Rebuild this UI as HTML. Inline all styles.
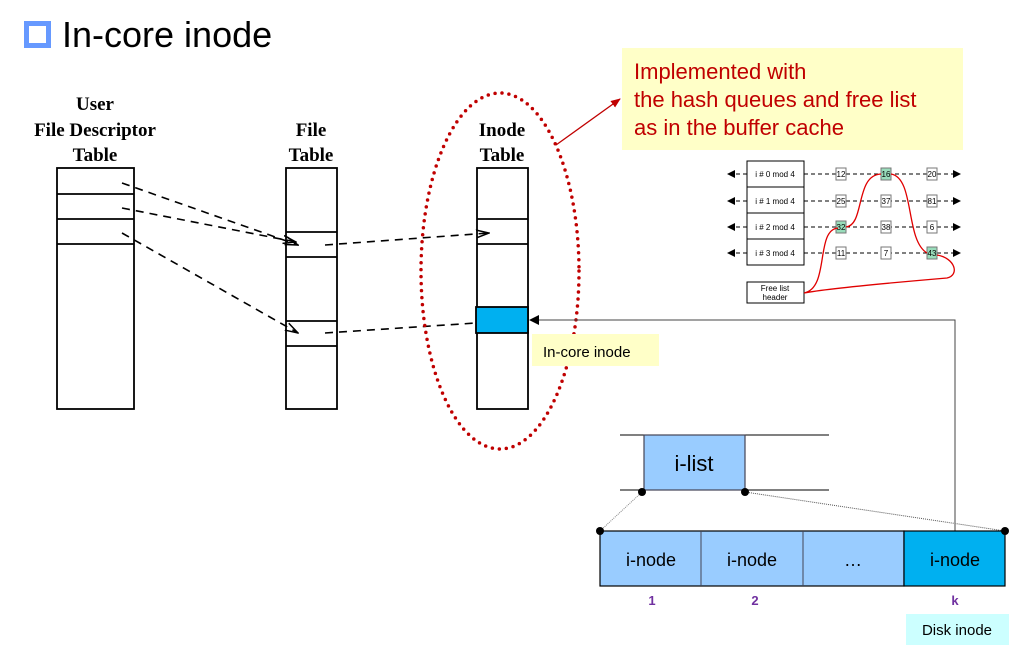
<!DOCTYPE html>
<html><head><meta charset="utf-8"><style>
html,body{margin:0;padding:0;background:#fff;width:1024px;height:666px;overflow:hidden}
svg{display:block}
.s{font-family:"Liberation Serif",serif;font-weight:bold;font-size:19px;fill:#000}
.a{font-family:"Liberation Sans",sans-serif}
</style></head><body>
<svg width="1024" height="666" viewBox="0 0 1024 666" xmlns="http://www.w3.org/2000/svg">
<defs>
<marker id="ah" markerWidth="8" markerHeight="8" refX="7" refY="4" orient="auto" markerUnits="userSpaceOnUse"><path d="M0,0 L8,4 L0,8 z" fill="#000"/></marker>
<marker id="ar" markerWidth="10" markerHeight="8" refX="9" refY="4" orient="auto" markerUnits="userSpaceOnUse"><path d="M0,0 L10,4 L0,8 z" fill="#c00000"/></marker>
<marker id="oa" markerWidth="14" markerHeight="10" refX="13" refY="5" orient="auto" markerUnits="userSpaceOnUse"><path d="M0,1 L13,5 L0,9" fill="none" stroke="#000" stroke-width="1.5"/></marker>
<marker id="ha" markerWidth="10" markerHeight="10" refX="9" refY="5" orient="auto" markerUnits="userSpaceOnUse"><path d="M0,0 L10,5 L0,10 z" fill="#000"/></marker>
</defs>
<rect x="26.5" y="23.5" width="22" height="22" fill="#fff" stroke="#6699ff" stroke-width="5"/>
<text x="62" y="47" class="a" font-size="36">In-core inode</text>

<text x="95" y="110" class="s" text-anchor="middle">User</text>
<text x="95" y="136" class="s" text-anchor="middle">File Descriptor</text>
<text x="95" y="161" class="s" text-anchor="middle">Table</text>
<text x="311" y="136" class="s" text-anchor="middle">File</text>
<text x="311" y="161" class="s" text-anchor="middle">Table</text>
<text x="502" y="136" class="s" text-anchor="middle">Inode</text>
<text x="502" y="161" class="s" text-anchor="middle">Table</text>

<g fill="#fff" stroke="#000" stroke-width="1.8">
<rect x="57" y="168" width="77" height="241"/>
<line x1="57" y1="194" x2="134" y2="194"/><line x1="57" y1="219" x2="134" y2="219"/><line x1="57" y1="244" x2="134" y2="244"/>
<rect x="286" y="168" width="51" height="241"/>
<line x1="286" y1="232" x2="337" y2="232"/><line x1="286" y1="257" x2="337" y2="257"/>
<line x1="286" y1="321" x2="337" y2="321"/><line x1="286" y1="346" x2="337" y2="346"/>
<rect x="477" y="168" width="51" height="241"/>
<line x1="477" y1="219" x2="528" y2="219"/><line x1="477" y1="244" x2="528" y2="244"/>
</g>
<rect x="476" y="307" width="52" height="26" fill="#00b0f0" stroke="#000" stroke-width="1.8"/>

<g stroke="#000" stroke-width="1.6" stroke-dasharray="8,6" fill="none">
<path d="M122,183 L298,245" marker-end="url(#oa)"/>
<path d="M122,208 L296,242" marker-end="url(#oa)"/>
<path d="M122,233 L298,333" marker-end="url(#oa)"/>
<path d="M325,245 L489,233" marker-end="url(#oa)"/>
<path d="M325,333 L476,323"/>
</g>

<ellipse cx="500" cy="271" rx="79" ry="178" fill="none" stroke="#c00000" stroke-width="3.5" stroke-dasharray="0,7" stroke-linecap="round"/>

<rect x="622" y="48" width="341" height="102" fill="#ffffc8"/>
<g class="a" font-size="22" fill="#c00000">
<text x="634" y="79">Implemented with</text>
<text x="634" y="107">the hash queues and free list</text>
<text x="634" y="135">as in the buffer cache</text>
</g>
<line x1="556" y1="145" x2="620" y2="99" stroke="#c00000" stroke-width="1.3" marker-end="url(#ar)"/>

<g class="a" font-size="8" text-anchor="middle">
<g stroke="#000" stroke-width="1" fill="#fff">
<rect x="747" y="161" width="57" height="26"/><rect x="747" y="187" width="57" height="26"/>
<rect x="747" y="213" width="57" height="26"/><rect x="747" y="239" width="57" height="26"/>
<rect x="747" y="282" width="57" height="21"/>
</g>
<g stroke="#000" stroke-width="1" stroke-dasharray="4,3">
<line x1="747" y1="174" x2="728" y2="174" marker-end="url(#ah)"/>
<line x1="747" y1="201" x2="728" y2="201" marker-end="url(#ah)"/>
<line x1="747" y1="227" x2="728" y2="227" marker-end="url(#ah)"/>
<line x1="747" y1="253" x2="728" y2="253" marker-end="url(#ah)"/>
<line x1="804" y1="174" x2="960" y2="174" marker-end="url(#ah)"/>
<line x1="804" y1="201" x2="960" y2="201" marker-end="url(#ah)"/>
<line x1="804" y1="227" x2="960" y2="227" marker-end="url(#ah)"/>
<line x1="804" y1="253" x2="960" y2="253" marker-end="url(#ah)"/>
</g>
<text x="775" y="177">i # 0 mod 4</text><text x="775" y="204">i # 1 mod 4</text>
<text x="775" y="230">i # 2 mod 4</text><text x="775" y="256">i # 3 mod 4</text>
<text x="775" y="291">Free list</text><text x="775" y="300">header</text>
<g stroke="#777" stroke-width="1">
<rect x="836" y="168" width="10" height="12" fill="#fff"/><rect x="881" y="168" width="10" height="12" fill="#99ddbb"/><rect x="927" y="168" width="10" height="12" fill="#fff"/>
<rect x="836" y="195" width="10" height="12" fill="#fff"/><rect x="881" y="195" width="10" height="12" fill="#fff"/><rect x="927" y="195" width="10" height="12" fill="#fff"/>
<rect x="836" y="221" width="10" height="12" fill="#99ddbb"/><rect x="881" y="221" width="10" height="12" fill="#fff"/><rect x="927" y="221" width="10" height="12" fill="#fff"/>
<rect x="836" y="247" width="10" height="12" fill="#fff"/><rect x="881" y="247" width="10" height="12" fill="#fff"/><rect x="927" y="247" width="10" height="12" fill="#99ddbb"/>
</g>
<text x="841" y="177">12</text><text x="886" y="177">16</text><text x="932" y="177">20</text>
<text x="841" y="204">25</text><text x="886" y="204">37</text><text x="932" y="204">81</text>
<text x="841" y="230">32</text><text x="886" y="230">38</text><text x="932" y="230">6</text>
<text x="841" y="256">11</text><text x="886" y="256">7</text><text x="932" y="256">43</text>
</g>
<path d="M804,293 C830,288 815,230 838,228 M846,227 C865,225 855,175 881,174 M891,174 C915,178 905,240 927,253 M937,255 C955,258 960,275 947,278 C900,282 830,288 804,293" fill="none" stroke="#e00000" stroke-width="1.3"/>

<rect x="532" y="334" width="127" height="32" fill="#ffffc8"/>
<text x="543" y="357" class="a" font-size="15">In-core inode</text>
<polyline points="955,531 955,320 530,320" fill="none" stroke="#444" stroke-width="1" marker-end="url(#ha)"/>

<line x1="620" y1="435" x2="829" y2="435" stroke="#000" stroke-width="1"/>
<line x1="620" y1="490" x2="829" y2="490" stroke="#000" stroke-width="1"/>
<rect x="644" y="435" width="101" height="55" fill="#99ccff" stroke="#445" stroke-width="1.2"/>
<text x="694" y="471" class="a" font-size="22" text-anchor="middle">i-list</text>
<line x1="642" y1="492" x2="600" y2="531" stroke="#888" stroke-width="1" stroke-dasharray="1,1"/>
<line x1="745" y1="492" x2="1005" y2="531" stroke="#555" stroke-width="1" stroke-dasharray="1,1"/>
<rect x="600" y="531" width="304" height="55" fill="#99ccff" stroke="#000" stroke-width="1.2"/>
<rect x="904" y="531" width="101" height="55" fill="#00b0f0" stroke="#000" stroke-width="1.2"/>
<line x1="701" y1="531" x2="701" y2="586" stroke="#445"/><line x1="803" y1="531" x2="803" y2="586" stroke="#445"/>
<g fill="#000"><circle cx="642" cy="492" r="4"/><circle cx="745" cy="492" r="4"/><circle cx="600" cy="531" r="4"/><circle cx="1005" cy="531" r="4"/></g>
<g class="a" font-size="18" text-anchor="middle">
<text x="651" y="566">i-node</text><text x="752" y="566">i-node</text><text x="853" y="566">…</text><text x="955" y="566">i-node</text>
</g>
<g class="a" font-size="13" font-weight="bold" fill="#7030a0" text-anchor="middle">
<text x="652" y="605">1</text><text x="755" y="605">2</text><text x="955" y="605">k</text>
</g>
<rect x="906" y="614" width="103" height="31" fill="#ccffff"/>
<text x="957" y="635" class="a" font-size="15" text-anchor="middle">Disk inode</text>
</svg>
</body></html>
